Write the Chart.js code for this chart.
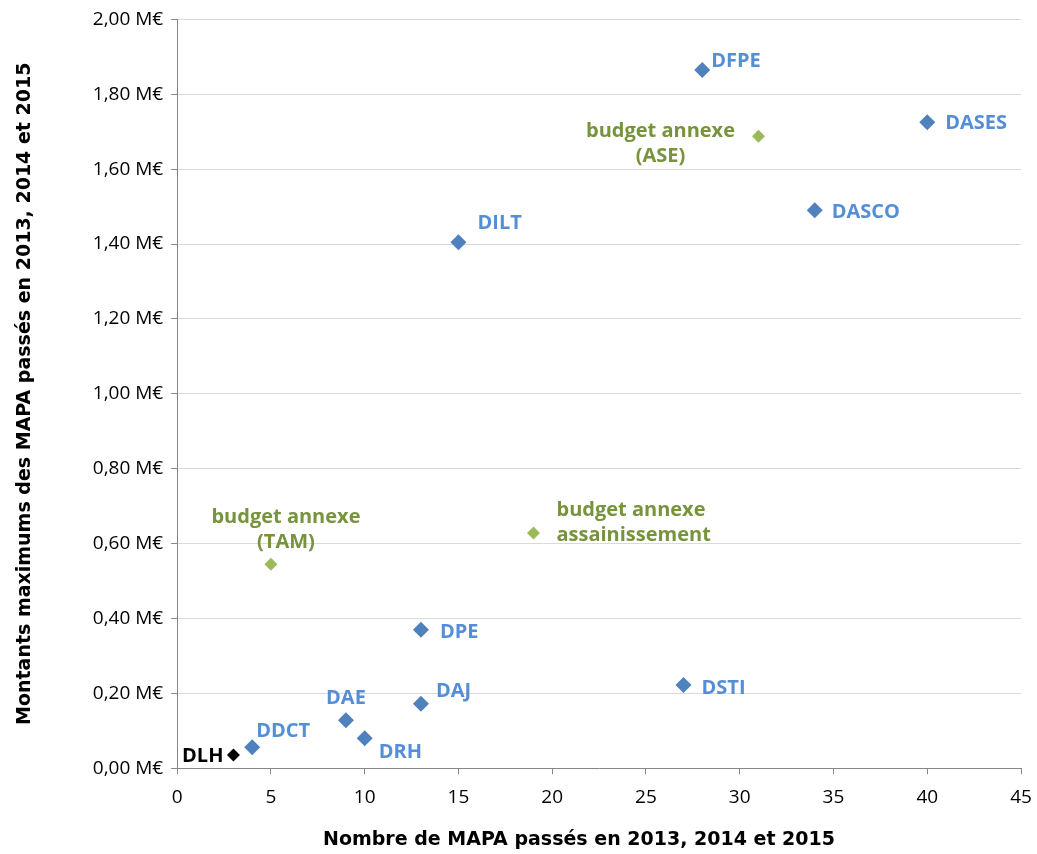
<!DOCTYPE html>
<html>
<head>
<meta charset="utf-8">
<script src="https://cdn.jsdelivr.net/npm/chart.js@4/dist/chart.umd.min.js"></script>
<style>
  html, body { margin: 0; padding: 0; background: #fff; }
  #wrap { width: 1037px; height: 854px; position: relative; }
</style>
</head>
<body>
<div id="wrap"><canvas id="c" width="1037" height="854"></canvas></div>
<script>
// Directions: number of MAPA (x) and maximum amount in M€ (y)
const dirNames  = ['DFPE', 'DASES', 'DASCO', 'DILT', 'DPE', 'DAJ', 'DSTI', 'DAE', 'DRH', 'DDCT'];
const dirCounts = [28, 40, 34, 15, 13, 13, 27, 9, 10, 4];
const dirAmounts = [1.865, 1.725, 1.49, 1.405, 0.37, 0.172, 0.222, 0.128, 0.08, 0.056];

// Budgets annexes
const annexNames   = [['budget annexe', '(ASE)'], ['budget annexe', '(TAM)'], ['budget annexe', 'assainissement']];
const annexCounts  = [31, 5, 19];
const annexAmounts = [1.688, 0.545, 0.628];

// DLH
const dlhNames   = ['DLH'];
const dlhCounts  = [3];
const dlhAmounts = [0.035];

const xTicks = [0, 5, 10, 15, 20, 25, 30, 35, 40, 45];
const yTicks = [0, 0.2, 0.4, 0.6, 0.8, 1.0, 1.2, 1.4, 1.6, 1.8, 2.0];

const xTitle = 'Nombre de MAPA passés en 2013, 2014 et 2015';
const yTitle = 'Montants maximums des MAPA passés en 2013, 2014 et 2015';

const toPoints = (xs, ys) => xs.map((x, i) => ({ x: x, y: ys[i] }));

// label placement per point: dx, dy, align
const dirLabelPos = [
  [9, -9, 'left'], [18, 1, 'left'], [17, 2, 'left'], [19, -19, 'left'],
  [19, 3, 'left'], [15, -13, 'left'], [18, 3, 'left'], [0, -22, 'center'],
  [14, 14, 'left'], [4, -16, 'left']
];
const annexLabelPos = [[-98, -5, 'center'], [15, -47, 'center'], [23, -23, 'left']];
const dlhLabelPos = [[-10, 1, 'right']];

const FONT = '"Open Sans", sans-serif';
const TITLE_FONT = '"DejaVu Sans", sans-serif';

const pointLabels = {
  id: 'pointLabels',
  afterDatasetsDraw(chart) {
    const ctx = chart.ctx;
    ctx.save();
    ctx.font = 'bold 20px ' + FONT;
    ctx.textBaseline = 'middle';
    chart.data.datasets.forEach((ds, di) => {
      const meta = chart.getDatasetMeta(di);
      meta.data.forEach((el, i) => {
        const pos = ds.labelPos[i];
        const lab = ds.labels[i];
        const lines = Array.isArray(lab) ? lab : [lab];
        ctx.fillStyle = ds.labelColor;
        ctx.textAlign = pos[2];
        lines.forEach((ln, k) => {
          ctx.fillText(ln, el.x + pos[0], el.y + pos[1] + k * 25);
        });
      });
    });
    ctx.restore();
  }
};

// horizontal axis title, drawn below the tick labels
const xAxisTitle = {
  id: 'xAxisTitle',
  afterDraw(chart) {
    const ctx = chart.ctx;
    ctx.save();
    ctx.font = 'bold 19px ' + TITLE_FONT;
    ctx.fillStyle = '#000';
    ctx.textAlign = 'center';
    ctx.textBaseline = 'middle';
    ctx.fillText(xTitle, 579, chart.chartArea.bottom + 72);
    ctx.restore();
  }
};

new Chart(document.getElementById('c'), {
  type: 'scatter',
  data: {
    datasets: [
      {
        data: toPoints(dirCounts, dirAmounts),
        labels: dirNames, labelPos: dirLabelPos, labelColor: '#558ED5',
        pointStyle: 'rectRot', pointRadius: 8, pointHoverRadius: 8,
        backgroundColor: '#4F81BD', borderColor: '#4F81BD', borderWidth: 0
      },
      {
        data: toPoints(annexCounts, annexAmounts),
        labels: annexNames, labelPos: annexLabelPos, labelColor: '#77933C',
        pointStyle: 'rectRot', pointRadius: 6.5, pointHoverRadius: 6.5,
        backgroundColor: '#9BBB59', borderColor: '#9BBB59', borderWidth: 0
      },
      {
        data: toPoints(dlhCounts, dlhAmounts),
        labels: dlhNames, labelPos: dlhLabelPos, labelColor: '#000000',
        pointStyle: 'rectRot', pointRadius: 6.5, pointHoverRadius: 6.5,
        backgroundColor: '#000000', borderColor: '#000000', borderWidth: 0
      }
    ]
  },
  options: {
    responsive: false,
    animation: false,
    layout: { padding: { top: 15, right: 16, left: 10, bottom: 33 } },
    plugins: { legend: { display: false }, tooltip: { enabled: false } },
    scales: {
      x: {
        type: 'linear', min: 0, max: 45,
        afterBuildTicks: (s) => { s.ticks = xTicks.map(v => ({ value: v })); },
        afterFit: (s) => { s.paddingRight = 0; },
        grid: { drawOnChartArea: false, tickLength: 6, color: '#868686' },
        border: { color: '#868686' },
        ticks: { color: '#000', font: { family: FONT, size: 19 }, padding: 12, callback: (v) => String(v) },
        title: { display: false }
      },
      y: {
        type: 'linear', min: 0, max: 2,
        afterBuildTicks: (s) => { s.ticks = yTicks.map(v => ({ value: v })); },
        grid: { color: '#D9D9D9', tickColor: '#868686', tickLength: 6 },
        border: { color: '#868686' },
        ticks: { color: '#000', font: { family: FONT, size: 19 }, padding: 8,
                 callback: (v) => v.toFixed(2).replace('.', ',') + ' M€' },
        title: { display: true, text: yTitle, color: '#000',
                 font: { family: TITLE_FONT, size: 19, weight: 'bold' }, padding: { bottom: 48 } }
      }
    }
  },
  plugins: [pointLabels, xAxisTitle]
});
</script>
</body>
</html>
